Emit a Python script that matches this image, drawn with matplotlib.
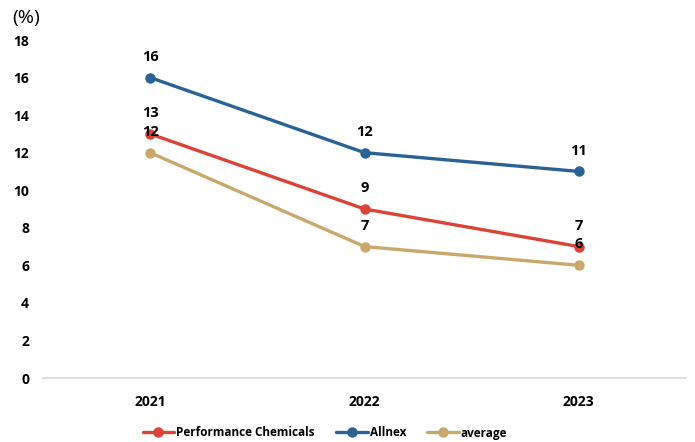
import numpy as np
import matplotlib.pyplot as plt

years = ['2021', '2022', '2023']
perf_chem = [13, 9, 7]
allnex = [16, 12, 11]
average = [12, 7, 6]

series = [
    ('Performance Chemicals', perf_chem, '#DD4237'),
    ('Allnex', allnex, '#2A6295'),
    ('average', average, '#C8A96B'),
]

plt.rcParams['font.family'] = ['Open Sans', 'DejaVu Sans']

fig = plt.figure(figsize=(6.95, 4.42), dpi=100)
ax = fig.add_axes([43 / 695, 1 - 378 / 442, (686 - 43) / 695, (378 - 40) / 442])

x = np.arange(len(years))
for name, vals, col in series:
    ax.plot(x, vals, color=col, lw=2.4, marker='o', ms=6.5, label=name,
            solid_capstyle='round')
    for xi, v in zip(x, vals):
        ax.annotate(str(v), (xi, v), xytext=(0, 10), textcoords='offset points',
                    ha='center', va='bottom', fontsize=10.5, fontweight='bold')

ax.set_xlim(-0.5, 2.5)
ax.set_ylim(0, 18)
ax.set_yticks(np.arange(0, 19, 2))
ax.set_xticks(x)
ax.set_xticklabels(years)
for s in ['top', 'right', 'left']:
    ax.spines[s].set_visible(False)
ax.spines['bottom'].set_color('#D9D9D9')
ax.spines['bottom'].set_linewidth(1.2)
ax.tick_params(axis='both', length=0, labelsize=10)
ax.tick_params(axis='y', pad=10)
ax.tick_params(axis='x', pad=12)
for lab in ax.get_xticklabels() + ax.get_yticklabels():
    lab.set_fontweight('bold')

fig.text(12 / 695, 1 - 18 / 442, '(%)', fontsize=14, va='center', ha='left')

fig.legend(loc='center', bbox_to_anchor=(325 / 695, 1 - 433 / 442), ncol=3, frameon=False,
           handlelength=2.7, handletextpad=0.15, columnspacing=1.8,
           prop={'weight': 'bold', 'size': 8.5})

fig.savefig('out.png', dpi=100)
